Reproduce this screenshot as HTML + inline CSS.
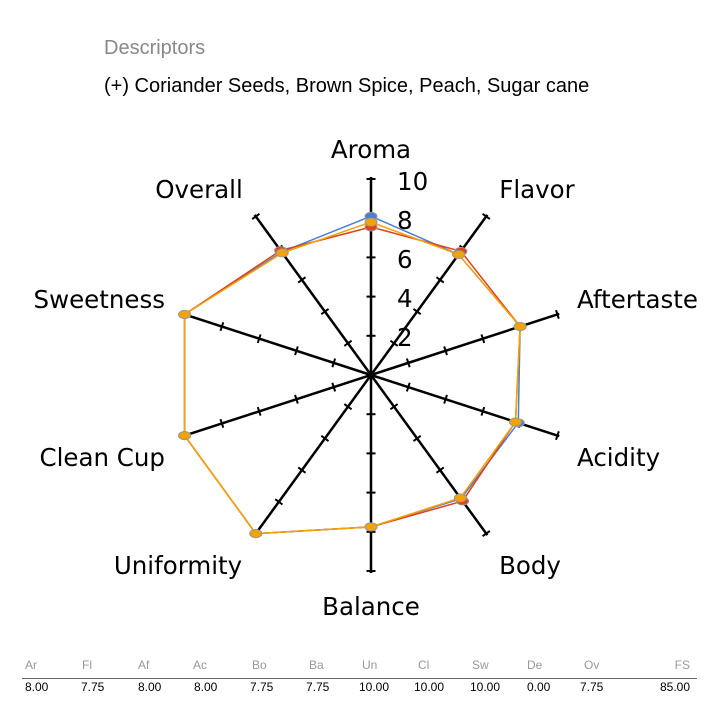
<!DOCTYPE html>
<html><head><meta charset="utf-8"><style>
body{margin:0;background:#fff;width:720px;height:720px;overflow:hidden;font-family:"Liberation Sans",sans-serif}
svg{position:absolute;left:0;top:0}
</style></head><body>
<svg id="s" width="720" height="720" xmlns="http://www.w3.org/2000/svg">
<text x="104" y="54" font-size="20" fill="#888" font-family="Liberation Sans, sans-serif">Descriptors</text>
<text x="104" y="92" font-size="20" fill="#000" font-family="Liberation Sans, sans-serif">(+) Coriander Seeds, Brown Spice, Peach, Sugar cane</text>
<g id="ax" stroke="#000" stroke-width="2.5"></g>
<g id="ser"></g>
<g font-family="DejaVu Sans, sans-serif" font-size="24.5" fill="#000">
<text x="371" y="158" text-anchor="middle">Aroma</text>
<text x="537" y="198" text-anchor="middle">Flavor</text>
<text x="577" y="308">Aftertaste</text>
<text x="577" y="466">Acidity</text>
<text x="530" y="574" text-anchor="middle">Body</text>
<text x="371" y="615" text-anchor="middle">Balance</text>
<text x="178" y="574" text-anchor="middle">Uniformity</text>
<text x="165" y="466" text-anchor="end">Clean Cup</text>
<text x="165" y="308" text-anchor="end">Sweetness</text>
<text x="199" y="198" text-anchor="middle">Overall</text>
<text x="397" y="190">10</text>
<text x="397" y="229">8</text>
<text x="397" y="268">6</text>
<text x="397" y="307">4</text>
<text x="397" y="346">2</text>
</g>
<g font-size="12" fill="#999" font-family="Liberation Sans, sans-serif">
<text x="25" y="669">Ar</text><text x="82" y="669">Fl</text><text x="138" y="669">Af</text><text x="193" y="669">Ac</text><text x="252" y="669">Bo</text><text x="309" y="669">Ba</text><text x="362" y="669">Un</text><text x="418" y="669">Cl</text><text x="472" y="669">Sw</text><text x="527" y="669">De</text><text x="584" y="669">Ov</text><text x="690" y="669" text-anchor="end">FS</text>
</g>
<line x1="22" y1="678.5" x2="697" y2="678.5" stroke="#666" stroke-width="1"/>
<g font-size="12" fill="#000" font-family="Liberation Sans, sans-serif">
<text x="25" y="691">8.00</text><text x="81" y="691">7.75</text><text x="138" y="691">8.00</text><text x="194" y="691">8.00</text><text x="250" y="691">7.75</text><text x="306" y="691">7.75</text><text x="359" y="691">10.00</text><text x="414" y="691">10.00</text><text x="470" y="691">10.00</text><text x="527" y="691">0.00</text><text x="580" y="691">7.75</text><text x="690" y="691" text-anchor="end">85.00</text>
</g>
</svg>
<script>
var cx=371,cy=375,U=19.6,NS="http://www.w3.org/2000/svg";
function el(t,a,p){var e=document.createElementNS(NS,t);for(var k in a)e.setAttribute(k,a[k]);p.appendChild(e);return e;}
var ax=document.getElementById('ax'),ser=document.getElementById('ser');
function pt(i,v){var a=i*Math.PI/5;return [cx+Math.sin(a)*v*U,cy-Math.cos(a)*v*U];}
for(var i=0;i<10;i++){var a=i*Math.PI/5,e=pt(i,10.1);
el('line',{x1:cx,y1:cy,x2:e[0],y2:e[1]},ax);
for(var t=2;t<=10;t+=2){var p=pt(i,t),px=Math.cos(a)*4.5,py=Math.sin(a)*4.5;
el('line',{x1:p[0]-px,y1:p[1]-py,x2:p[0]+px,y2:p[1]+py,'stroke-width':2},ax);}}
var data=[
 ['#4a7fd4',[8.1,7.6,8,7.9,7.8,7.75,10,10,10,7.75]],
 ['#e0421c',[7.55,7.8,8,7.75,7.95,7.75,10,10,10,7.85]],
 ['#f5a300',[7.8,7.6,8,7.75,7.75,7.75,10,10,10,7.7]]];
data.forEach(function(d){var s='';for(var i=0;i<=10;i++){var p=pt(i%10,d[1][i%10]);s+=p[0].toFixed(1)+','+p[1].toFixed(1)+' ';}
el('polyline',{points:s,fill:'none',stroke:d[0],'stroke-width':1.5},ser);});
data.forEach(function(d){for(var i=0;i<10;i++){var p=pt(i,d[1][i]);el('ellipse',{cx:p[0],cy:p[1],rx:6,ry:4,fill:d[0],stroke:'#999','stroke-width':1},ser);}});
</script>
</body></html>
